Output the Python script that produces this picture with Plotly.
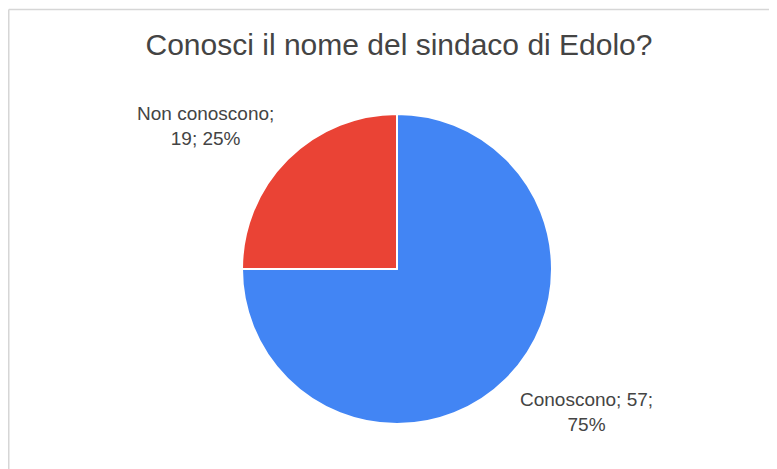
import math
import plotly.graph_objects as go

labels = ["Conoscono", "Non conoscono"]
values = [57, 19]
colors = ["#4285F4", "#EA4335"]
label_texts = ["Conoscono; 57;<br>75%", "Non conoscono;<br>19; 25%"]
title_text = "Conosci il nome del sindaco di Edolo?"

W, H = 769, 461
ml, mr, mt, mb = 9, 0, 106, 45
pw, ph = W - ml - mr, H - mt - mb
R = min(pw, ph) / 2
font = "Arial, Liberation Sans, sans-serif"

fig = go.Figure(go.Pie(
    labels=labels, values=values, sort=False, direction="clockwise", rotation=0,
    marker=dict(colors=colors, line=dict(color="white", width=2)),
    textinfo="none", hoverinfo="label+value+percent", showlegend=False,
))

# Labels placed along each slice's mid-angle, just outside the pie edge
total = sum(values)
annotations = []
cum = 0
for txt, v in zip(label_texts, values):
    mid = (cum + v / 2) / total * 2 * math.pi
    cum += v
    sx, sy = math.sin(mid), math.cos(mid)
    dx = 1.10 * R
    dy = 1.075 * R
    annotations.append(dict(
        x=0.5 + dx * sx / pw, y=0.5 + dy * sy / ph, xref="paper", yref="paper",
        text=txt, showarrow=False, align="center",
        xanchor="left" if sx > 0 else "right",
        yanchor="bottom" if sy > 0 else "top",
        font=dict(family=font, size=19, color="#444444"),
    ))

def px_x(x):
    return (x - ml) / pw

def px_y(y):
    return (H - mb - y) / ph

fig.update_layout(
    width=W, height=H,
    margin=dict(l=ml, r=mr, t=mt, b=mb),
    paper_bgcolor="white",
    title=dict(text=title_text, x=px_x(391), xref="paper", xanchor="center",
               y=1 - 36 / H, yref="container", yanchor="middle",
               font=dict(family=font, size=30, color="#444444")),
    annotations=annotations,
    shapes=[
        dict(type="line", xref="paper", yref="paper",
             x0=px_x(0.75), x1=px_x(W + 20), y0=px_y(1.5), y1=px_y(1.5),
             line=dict(color="#d6d6d6", width=1.5)),
        dict(type="line", xref="paper", yref="paper",
             x0=px_x(0.75), x1=px_x(0.75), y0=px_y(1.5), y1=px_y(H + 20),
             line=dict(color="#d6d6d6", width=1.5)),
    ],
)

fig.write_html("out.html")
